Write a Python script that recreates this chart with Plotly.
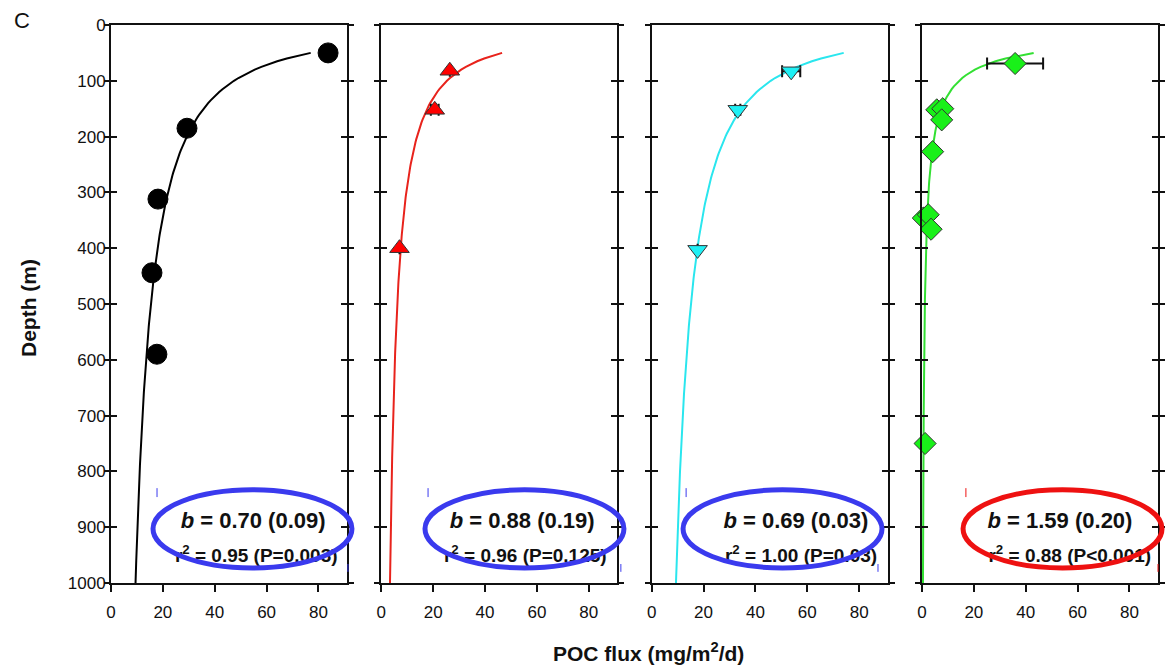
import plotly.graph_objects as go

# ---------------- data ----------------
depth_ticks = [0, 100, 200, 300, 400, 500, 600, 700, 800, 900, 1000]
flux_ticks = [0, 20, 40, 60, 80]

p1_flux = [83.7, 29.3, 18.1, 15.8, 17.7]
p1_depth = [50, 185, 312, 444, 590]
p1_err = [2.5, 0, 0, 0, 0]

p2_flux = [26.4, 20.6, 7.0]
p2_depth = [82, 152, 400]
p2_err = [0, 1.5, 0]

p3_flux = [53.8, 33.2, 17.7]
p3_depth = [83, 152, 403]
p3_err = [3.5, 1.0, 0]

p4_flux = [35.9, 5.7, 8.0, 7.6, 4.1, 0.5, 2.4, 3.5, 1.2]
p4_depth = [69, 152, 150, 170, 227, 346, 340, 366, 750]
p4_err = [10.8, 0, 0, 0, 0, 0, 0, 0, 0]

# Martin-curve fits: F = F100 * (z/100)^-b  (b from the panel labels)
fit_b = [0.70, 0.88, 0.69, 1.59]
fit_f100 = [47.4, 25.3, 45.9, 14.3]
fit_depth = [50 + 5 * i for i in range(191)]

b_labels = ["0.70 (0.09)", "0.88 (0.19)", "0.69 (0.03)", "1.59 (0.20)"]
r2_labels = ["0.95 (P=0.003)", "0.96 (P=0.125)", "1.00 (P=0.03)", "0.88 (P<0.001)"]

# ---------------- style ----------------
FONT = "Liberation Sans, Arial, sans-serif"
panels = [
    dict(flux=p1_flux, depth=p1_depth, err=p1_err, symbol="circle", size=20,
         fill="#000000", outline="#000000", curve="#000000"),
    dict(flux=p2_flux, depth=p2_depth, err=p2_err, symbol="triangle-up", size=17,
         fill="#ff0000", outline="#333333", curve="#e8231c"),
    dict(flux=p3_flux, depth=p3_depth, err=p3_err, symbol="triangle-down", size=17,
         fill="#1ff0f5", outline="#333333", curve="#2ae6ee"),
    dict(flux=p4_flux, depth=p4_depth, err=p4_err, symbol="diamond", size=17,
         fill="#19f019", outline="#333333", curve="#33e033"),
]
ell_color = ["#3a3aee", "#3a3aee", "#3a3aee", "#ee1111"]
ell_x = [(0.178, 1.021), (0.185, 1.028), (0.133, 0.976), (0.174, 1.017)]
mark_x = [(0.195, 1.004), (0.198, 1.015), (0.146, 0.959), (0.186, 1.0)]
text_xb = [54.8, 54.3, 55.6, 53.2]
text_xr = [56.0, 55.5, 57.6, 57.0]

L, R, T, B = 111, 15, 25, 87
W, H = 1173, 670
pw = W - L - R
w = 236
g = (pw - 4 * w) / 3
XR = [0, 91]

fig = go.Figure()
layout = dict(
    width=W, height=H, margin=dict(l=L, r=R, t=T, b=B),
    paper_bgcolor="white", plot_bgcolor="white", showlegend=False,
    font=dict(family=FONT, color="#111111", size=17),
)
shapes = []
annotations = []

for i, p in enumerate(panels):
    n = i + 1
    xa = "x" if n == 1 else f"x{n}"
    ya = "y" if n == 1 else f"y{n}"
    yo = f"y{n + 4}"
    d0 = i * (w + g) / pw
    d1 = (i * (w + g) + w) / pw
    layout[f"xaxis{'' if n == 1 else n}"] = dict(
        domain=[d0, d1], range=XR, anchor=ya, tickvals=flux_ticks,
        ticks="outside", ticklen=7, tickwidth=2, tickcolor="#111",
        showline=True, linewidth=2, linecolor="#111", mirror=True,
        showgrid=False, zeroline=False, tickfont=dict(size=17, family=FONT),
        ticklabelstandoff=6,
    )
    layout[f"yaxis{'' if n == 1 else n}"] = dict(
        domain=[0, 1], range=[1000, 0], anchor=xa, tickvals=depth_ticks,
        ticks="inside", ticklen=6, tickwidth=2, tickcolor="#111",
        showline=True, linewidth=2, linecolor="#111", mirror="allticks",
        showgrid=False, zeroline=False, showticklabels=(n == 1),
        tickfont=dict(size=17, family=FONT),
    )
    layout[f"yaxis{n + 4}"] = dict(
        overlaying=ya, range=[1000, 0], anchor=xa, tickvals=depth_ticks,
        ticks="outside", ticklen=6, tickwidth=2, tickcolor="#111",
        showline=False, mirror="allticks", showgrid=False, zeroline=False,
        showticklabels=False,
    )
    # invisible trace so the overlay axis is drawn
    fig.add_trace(go.Scatter(x=[None], y=[None], xaxis=xa, yaxis=yo,
                             mode="markers", hoverinfo="skip"))

    # fitted curve
    fx = [fit_f100[i] * (z / 100.0) ** (-fit_b[i]) for z in fit_depth]
    fig.add_trace(go.Scatter(x=fx, y=fit_depth, mode="lines", xaxis=xa, yaxis=ya,
                             line=dict(color=p["curve"], width=2), cliponaxis=True))
    # observations
    fig.add_trace(go.Scatter(
        x=p["flux"], y=p["depth"], mode="markers", xaxis=xa, yaxis=ya,
        marker=dict(symbol=p["symbol"], size=p["size"], color=p["fill"],
                    line=dict(color=p["outline"], width=1)),
        error_x=dict(type="data", array=p["err"], visible=True, color="#111",
                     thickness=2, width=6),
        cliponaxis=False,
    ))
    # statistics text (drawn below the ellipse)
    fig.add_trace(go.Scatter(
        x=[text_xb[i]], y=[892], mode="text", xaxis=xa, yaxis=ya,
        text=[f"<b><i>b</i> = {b_labels[i]}</b>"],
        textfont=dict(size=22, family=FONT, color="#111"), cliponaxis=False,
    ))
    fig.add_trace(go.Scatter(
        x=[text_xr[i]], y=[953], mode="text", xaxis=xa, yaxis=ya,
        text=[f"<b>r<sup>2</sup> = {r2_labels[i]}</b>"],
        textfont=dict(size=19, family=FONT, color="#111"), cliponaxis=False,
    ))
    # ellipse highlight
    shapes.append(dict(type="circle", xref=f"{xa} domain", yref=f"{ya} domain",
                       x0=ell_x[i][0], x1=ell_x[i][1], y0=0.027, y1=0.167,
                       line=dict(color=ell_color[i], width=5), layer="above"))
    # small corner marks
    shapes.append(dict(type="line", xref=f"{xa} domain", yref=f"{ya} domain",
                       x0=mark_x[i][0], x1=mark_x[i][0], y0=0.154, y1=0.170,
                       line=dict(color=ell_color[i], width=1), layer="above"))
    shapes.append(dict(type="line", xref=f"{xa} domain", yref=f"{ya} domain",
                       x0=mark_x[i][1], x1=mark_x[i][1], y0=0.020, y1=0.034,
                       line=dict(color=ell_color[i], width=1), layer="above"))

annotations.append(dict(text="<b>Depth (m)</b>", xref="paper", yref="paper",
                        x=(28 - L) / pw, y=(583 - 308) / 558, textangle=-90,
                        showarrow=False, font=dict(size=21, family=FONT, color="#111"),
                        xanchor="center", yanchor="middle"))
annotations.append(dict(text="<b>POC flux (mg/m<sup>2</sup>/d)</b>", xref="paper", yref="paper",
                        x=(648 - L) / pw, y=(583 - 652) / 558,
                        showarrow=False, font=dict(size=21, family=FONT, color="#111"),
                        xanchor="center", yanchor="middle"))
annotations.append(dict(text="C", xref="paper", yref="paper",
                        x=(22 - L) / pw, y=(583 - 20) / 558,
                        showarrow=False, font=dict(size=22, family=FONT, color="#111"),
                        xanchor="center", yanchor="middle"))

layout["shapes"] = shapes
layout["annotations"] = annotations
fig.update_layout(**layout)
fig.write_html("out.html")
